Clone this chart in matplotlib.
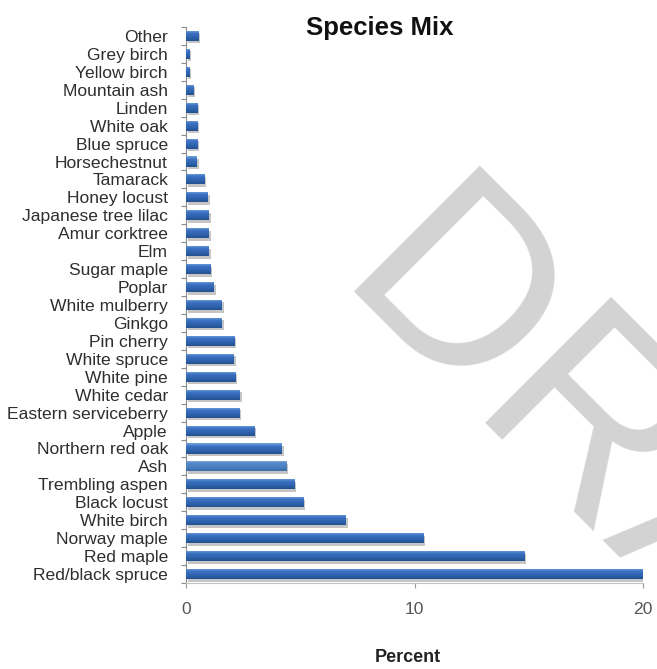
import matplotlib
matplotlib.use("Agg")
import matplotlib.pyplot as plt
import matplotlib.patheffects as pe
from matplotlib.colors import LinearSegmentedColormap
from matplotlib.ticker import FixedLocator
import numpy as np

# Species ordered bottom to top, with their share of the inventory (%)
species = [
    "Red/black spruce", "Red maple", "Norway maple", "White birch",
    "Black locust", "Trembling aspen", "Ash", "Northern red oak", "Apple",
    "Eastern serviceberry", "White cedar", "White pine", "White spruce",
    "Pin cherry", "Ginkgo", "White mulberry", "Poplar", "Sugar maple", "Elm",
    "Amur corktree", "Japanese tree lilac", "Honey locust", "Tamarack",
    "Horsechestnut", "Blue spruce", "White oak", "Linden", "Mountain ash",
    "Yellow birch", "Grey birch", "Other",
]
percent = [
    20.0, 14.8, 10.4, 7.0,
    5.15, 4.75, 4.38, 4.2, 3.0,
    2.35, 2.36, 2.18, 2.1,
    2.11, 1.57, 1.57, 1.22, 1.06, 1.0,
    1.0, 1.0, 0.96, 0.79,
    0.48, 0.5, 0.5, 0.5, 0.33,
    0.15, 0.15, 0.53,
]
x_ticks = [0, 10, 20]
lighter = {"Ash"}

FONT = "Liberation Sans"
plt.rcParams["font.family"] = [FONT, "DejaVu Sans"]

fig = plt.figure(figsize=(6.57, 6.69), dpi=100)
ax = fig.add_axes([186 / 657, 1 - 583 / 669, (643 - 186) / 657, (583 - 27) / 669])
ax.patch.set_alpha(0)

ypos = np.arange(len(species))
bar_h = 0.56
bars = ax.barh(ypos, percent, height=bar_h, color="#3469b8", linewidth=0, zorder=2)

shadow = [pe.SimplePatchShadow(offset=(1.2, -1.8), shadow_rgbFace="#808080", alpha=0.45),
          pe.Normal()]

grad_main = LinearSegmentedColormap.from_list(
    "bar_main", [(0.0, "#24508e"), (0.35, "#2f63b0"), (0.7, "#3a71c1"), (1.0, "#78a5dd")])
grad_light = LinearSegmentedColormap.from_list(
    "bar_light", [(0.0, "#3c6ba8"), (0.35, "#4a7ec0"), (0.7, "#5288c8"), (1.0, "#8ab1e2")])
ramp = np.linspace(0, 1, 64).reshape(-1, 1)

for name, rect in zip(species, bars):
    rect.set_path_effects(shadow)
    x0, y0 = rect.get_x(), rect.get_y()
    w, h = rect.get_width(), rect.get_height()
    cmap = grad_light if name in lighter else grad_main
    img = ax.imshow(ramp, cmap=cmap, origin="lower", aspect="auto",
                    extent=(x0, x0 + w, y0, y0 + h), zorder=3, interpolation="bilinear")
    img.set_clip_path(rect)

ax.set_xlim(0, 20)
ax.set_ylim(-0.5, len(species) - 0.5)

ax.set_yticks(ypos)
ax.set_yticklabels(species)
ax.yaxis.set_minor_locator(FixedLocator(np.arange(-0.5, len(species), 1.0)))
ax.tick_params(axis="y", which="major", length=0, pad=13, labelsize=12.6,
               labelcolor="#2e2e2e")
ax.tick_params(axis="y", which="minor", length=3.5, width=0.8, color="#8c8c8c",
               direction="out")

ax.set_xticks(x_ticks)
ax.set_xticklabels([str(t) for t in x_ticks])
ax.tick_params(axis="x", which="major", length=3.5, width=0.8, color="#9a9a9a",
               pad=10, labelsize=12.6, labelcolor="#555555")

for side in ("top", "right"):
    ax.spines[side].set_visible(False)
ax.spines["left"].set_color("#8c8c8c")
ax.spines["left"].set_linewidth(0.8)
ax.spines["bottom"].set_color("#c4c4c4")
ax.spines["bottom"].set_linewidth(0.8)

fig.text(0.578, 1 - 35 / 669, "Species Mix", ha="center", va="baseline",
         fontsize=18.5, fontweight="bold", color="#111111")
fig.text(408 / 657, 1 - 662 / 669, "Percent", ha="center", va="baseline",
         fontsize=13, fontweight="bold", color="#222222")

# Diagonal watermark, running off the right edge
fig.text(0.5053, 0.565, "DRAFT", rotation=-45, rotation_mode="anchor",
         ha="left", va="baseline", fontsize=186, family=FONT,
         color="#d3d3d3", zorder=-1)

fig.savefig("out.png", dpi=100, facecolor="white")
